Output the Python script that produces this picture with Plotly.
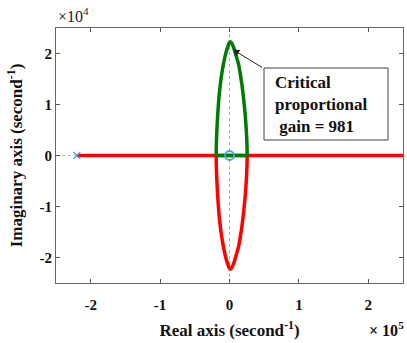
import plotly.graph_objects as go

# Root-locus branches (real, imag)
upper_x = [-19200, -19000, -18500, -17800, -17000, -16000, -14800, -13200, -11200, -8600, -6800, -4800, -2800, -1000, 1000, 3000, 5000, 7000, 9000, 11200, 13200, 15500, 17800, 19600, 21200, 22600, 23700, 24600, 25200, 25500]
upper_y = [0, 2000, 4000, 6000, 8000, 10000, 12000, 14000, 16000, 18000, 19200, 20300, 21200, 21900, 22300, 22100, 21500, 20800, 19800, 18800, 17800, 16000, 14000, 12000, 10000, 8000, 6000, 4000, 2000, 0]
lower_x = upper_x
lower_y = [-v for v in upper_y]

real_line_x = [-220000, 250000]
real_line_y = [0, 0]
green_seg_x = [-19200, 25500]
green_seg_y = [0, 0]

pole_x, pole_y = [-220000], [0]
zero_x, zero_y = [0], [0]

tick_vals_x = [-200000, -100000, 0, 100000, 200000]
tick_text_x = ["<b>-2</b>", "<b>-1</b>", "<b>0</b>", "<b>1</b>", "<b>2</b>"]
tick_vals_y = [-20000, -10000, 0, 10000, 20000]
tick_text_y = ["<b>-2</b>", "<b>-1</b>", "<b>0</b>", "<b>1</b>", "<b>2</b>"]

# annotation arrow: tip on the locus, tail at the box corner (data coords)
arrow_tip = (4300, 20800)
arrow_tail = (49000, 17100)

red = "#ff0000"
green = "#007a00"
blue = "#4a9fdc"
font = "Liberation Serif"

# plot area in pixels (for placing the note box)
L, R, T, B = 56, 403, 28, 283
def px(xp):
    return (xp - L) / (R - L)
def py(yp):
    return (B - yp) / (B - T)

fig = go.Figure()
fig.add_trace(go.Scatter(x=real_line_x, y=real_line_y, mode="lines",
                         line=dict(color=red, width=3.5)))
fig.add_trace(go.Scatter(x=lower_x, y=lower_y, mode="lines",
                         line=dict(color=red, width=3.5, shape="spline", smoothing=0.6)))
fig.add_trace(go.Scatter(x=upper_x, y=upper_y, mode="lines",
                         line=dict(color=green, width=3.5, shape="spline", smoothing=0.6)))
fig.add_trace(go.Scatter(x=green_seg_x, y=green_seg_y, mode="lines",
                         line=dict(color=green, width=3.5)))
fig.add_trace(go.Scatter(x=pole_x, y=pole_y, mode="markers",
                         marker=dict(symbol="x-thin", size=7, color=blue,
                                     line=dict(color=blue, width=1.2))))
fig.add_trace(go.Scatter(x=zero_x, y=zero_y, mode="markers",
                         marker=dict(symbol="circle-open", size=9, color=blue,
                                     line=dict(color=blue, width=1.8))))

# dotted axes lines
fig.add_shape(type="line", xref="x", yref="paper", x0=0, x1=0, y0=0, y1=1,
              line=dict(color="#b0b0b0", width=1, dash="dot"), layer="below")
fig.add_shape(type="line", xref="paper", yref="y", x0=0, x1=1, y0=0, y1=0,
              line=dict(color="#b0b0b0", width=1, dash="dot"), layer="below")

# note box
fig.add_shape(type="rect", xref="paper", yref="paper",
              x0=px(264), x1=px(388), y0=py(140), y1=py(68),
              line=dict(color="#444444", width=1), fillcolor="white", layer="above")

fig.add_annotation(x=arrow_tip[0], y=arrow_tip[1], xref="x", yref="y",
                   ax=arrow_tail[0], ay=arrow_tail[1], axref="x", ayref="y",
                   text="", showarrow=True, arrowhead=2, arrowsize=1.4,
                   arrowwidth=1, arrowcolor="#222222", standoff=0)

fig.add_annotation(xref="paper", yref="paper",
                   x=px(273), y=py(104),
                   xanchor="left", yanchor="middle",
                   text="<b>Critical</b><br><b>proportional</b><br><b> gain = 981</b>",
                   align="left", showarrow=False,
                   font=dict(family=font, size=17, color="#111111"))

# exponent labels
fig.add_annotation(xref="paper", yref="paper", x=0.0, y=1.0, yshift=1,
                   xanchor="left", yanchor="bottom", showarrow=False,
                   text="×10<sup>4</sup>", font=dict(family=font, size=16, color="#222222"))
fig.add_annotation(xref="paper", yref="paper", x=1.0, y=0, yshift=-34, xshift=-36,
                   xanchor="left", yanchor="top", showarrow=False,
                   text="<b>× 10<sup>5</sup></b>", font=dict(family=font, size=16, color="#111111"))

fig.update_layout(
    width=407, height=343,
    margin=dict(l=56, r=4, t=28, b=60),
    paper_bgcolor="white", plot_bgcolor="white",
    showlegend=False,
    font=dict(family=font, color="#111111"),
)
fig.update_xaxes(range=[-250000, 250000], tickvals=tick_vals_x, ticktext=tick_text_x,
                 ticks="inside", ticklen=4, tickcolor="#555555", mirror="ticks",
                 showline=True, linecolor="#666666", linewidth=1.2,
                 showgrid=False, zeroline=False, ticklabelstandoff=8,
                 tickfont=dict(family=font, size=15),
                 title=dict(text="<b>Real axis (second<sup>-1</sup>)</b>",
                            font=dict(family=font, size=17), standoff=12))
fig.update_yaxes(range=[-25000, 25000], tickvals=tick_vals_y, ticktext=tick_text_y,
                 ticks="inside", ticklen=4, tickcolor="#555555", mirror="ticks",
                 showline=True, linecolor="#666666", linewidth=1.2,
                 showgrid=False, zeroline=False,
                 tickfont=dict(family=font, size=15),
                 title=dict(text="<b>Imaginary axis (second<sup>-1</sup>)</b>",
                            font=dict(family=font, size=17), standoff=12))

fig.write_html("out.html")
